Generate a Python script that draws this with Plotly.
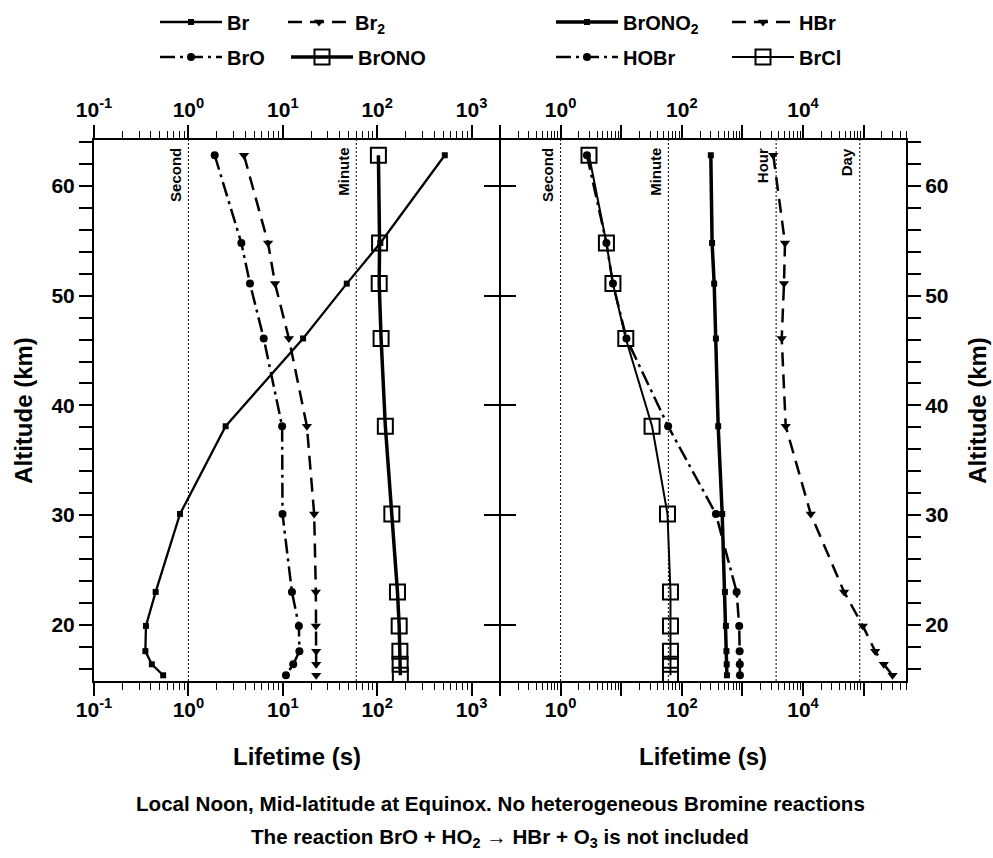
import numpy as np
import plotly.graph_objects as go

# ---------------- data ----------------
altitude = [62.8, 54.8, 51.1, 46.1, 38.1, 30.1, 23.0, 19.9, 17.6, 16.4, 15.4]

# left panel (lifetime, s)
br = [520, 108, 47.6, 16.4, 2.48, 0.815, 0.45, 0.355, 0.35, 0.41, 0.54]
br2 = [3.88, 6.98, 8.28, 11.6, 18.0, 21.5, 22.4, 22.4, 22.6, 22.6, 22.6]
bro = [1.9, 3.64, 4.49, 6.28, 9.84, 9.93, 12.5, 14.8, 15.0, 12.9, 10.8]
brono = [103, 106, 105, 110, 122, 143, 164, 171, 174, 175, 176]

# right panel (lifetime, s)
brono2 = [301, 316, 342, 365, 398, 464, 514, 534, 545, 550, 555]
hbr = [3230, 5040, 4850, 4450, 5180, 13400, 47600, 97000, 155000, 215000, 300000]
hobr = [2.72, 5.7, 7.3, 12.2, 59.4, 365, 802, 885, 900, 905, 910]
brcl = [2.94, 5.7, 7.3, 11.9, 32.3, 58, 65, 65, 65, 65, 65]

ref_left_names = ["Second", "Minute"]
ref_left_values = [1, 60]
ref_right_names = ["Second", "Minute", "Hour", "Day"]
ref_right_values = [1, 60, 3600, 86400]

left_tickvals = [0.1, 1, 10, 100, 1000]
left_ticktext = ["10<sup>-1</sup>", "10<sup>0</sup>", "10<sup>1</sup>", "10<sup>2</sup>", "10<sup>3</sup>"]
right_tickvals = [0.1, 1, 10, 100, 1000, 1e4, 1e5]
right_ticktext = ["", "10<sup>0</sup>", "", "10<sup>2</sup>", "", "10<sup>4</sup>", ""]
alt_range = [14.88, 64.19]
left_range = [0.1, 2000]
right_range = [0.1, 5e5]

FONT = "Liberation Sans"
fig = go.Figure()

# plot area in pixels (for placing legends)
ML, MR, MT, MB = 94, 87, 140, 177
PW, PH = 993 - ML - MR, 858 - MT - MB


def add(name, x, xa, ya, dash, width, symbol, msize, legend, mline=0):
    fig.add_trace(go.Scatter(
        x=x, y=altitude, name=name, mode="lines+markers", xaxis=xa, yaxis=ya,
        line=dict(color="black", width=width, dash=dash),
        marker=dict(symbol=symbol, size=msize, color="black",
                    line=dict(color="black", width=mline)),
        legend=legend))


DASH = "14px,8px"
DASHDOT = "15px,5px,3px,5px"
add("Br", br, "x", "y", "solid", 2.3, "square", 6, "legend")
add("Br<sub>2</sub>", br2, "x", "y", DASH, 2.5, "triangle-down", 9, "legend2")
add("BrO", bro, "x", "y", DASHDOT, 2.5, "circle", 8, "legend3")
add("BrONO", brono, "x", "y", "solid", 3.5, "square-open", 15, "legend4", 2)
add("BrONO<sub>2</sub>", brono2, "x2", "y2", "solid", 3.5, "square", 6, "legend5")
add("HBr", hbr, "x2", "y2", DASH, 2.5, "triangle-down", 9, "legend6")
add("HOBr", hobr, "x2", "y2", DASHDOT, 2.5, "circle", 8, "legend7")
add("BrCl", brcl, "x2", "y2", "solid", 2, "square-open", 15, "legend8", 2)

# dotted reference lines (Second / Minute / Hour / Day)
annotations = []
for names, vals, xa, ya in [(ref_left_names, ref_left_values, "x3", "y3"),
                            (ref_right_names, ref_right_values, "x4", "y4")]:
    for nm, v in zip(names, vals):
        fig.add_trace(go.Scatter(x=[v, v], y=alt_range, mode="lines", xaxis=xa, yaxis=ya,
                                 line=dict(color="black", width=1, dash="2px,2px"),
                                 showlegend=False, hoverinfo="skip"))
        annotations.append(dict(text=nm, x=np.log10(v), y=alt_range[1], xref=xa, yref=ya,
                                xanchor="right", yanchor="top", textangle=-90,
                                xshift=-3, yshift=-6, showarrow=False,
                                font=dict(size=15, family=FONT, weight="bold", color="black")))

annotations += [
    dict(text="Local Noon, Mid-latitude at Equinox. No heterogeneous Bromine reactions",
         x=0.5, y=-(803 - 681) / PH, xref="paper", yref="paper", showarrow=False,
         xanchor="center", yanchor="middle",
         font=dict(size=20.6, family=FONT, weight="bold", color="black")),
    dict(text="The reaction BrO + HO<sub>2</sub> \u2192 HBr + O<sub>3</sub> is not included",
         x=0.5, y=-(838 - 681) / PH, xref="paper", yref="paper", showarrow=False,
         xanchor="center", yanchor="middle",
         font=dict(size=20.6, family=FONT, weight="bold", color="black")),
]

tickfont = dict(size=21, family=FONT, weight="bold", color="black")
xcommon = dict(type="log", showline=True, linecolor="black", linewidth=2,
               ticks="outside", ticklen=13, tickwidth=1.5, tickcolor="black",
               minor=dict(ticks="outside", ticklen=7, tickwidth=1, tickcolor="black", dtick="D1"),
               showgrid=False, zeroline=False, tickfont=tickfont, tickmode="array",
               automargin=False)
ycommon = dict(range=alt_range, showline=True, linecolor="black", linewidth=2,
               ticks="outside", ticklen=13, tickwidth=1.5, tickcolor="black",
               tickmode="linear", tick0=0, dtick=10,
               minor=dict(ticks="outside", ticklen=13, tickwidth=1.5, tickcolor="black", dtick=2, tick0=0),
               showgrid=False, zeroline=False, tickfont=tickfont, automargin=False)
ydiv = dict(range=alt_range, showline=True, linecolor="black", linewidth=1,
            ticks="outside", ticklen=15, tickwidth=1.5, tickcolor="black",
            tickmode="array", tickvals=[20, 30, 40, 50, 60], showticklabels=False,
            showgrid=False, zeroline=False, automargin=False)
title_font = dict(size=24, family=FONT, weight="bold", color="black")

lrange = [np.log10(left_range[0]), np.log10(left_range[1])]
rrange = [np.log10(right_range[0]), np.log10(right_range[1])]

fig.update_layout(
    width=993, height=858,
    margin=dict(l=ML, r=MR, t=MT, b=MB, autoexpand=False),
    paper_bgcolor="white", plot_bgcolor="white",
    font=dict(family=FONT, weight="bold", color="black"),
    xaxis=dict(xcommon, domain=[0, 0.5], range=lrange, anchor="y", side="bottom",
               tickvals=left_tickvals, ticktext=left_ticktext, ticklabelstandoff=-4,
               title=dict(text="Lifetime (s)", font=title_font, standoff=28)),
    xaxis3=dict(xcommon, range=lrange, overlaying="x", anchor="y3", side="top",
                tickvals=left_tickvals, ticktext=left_ticktext),
    xaxis2=dict(xcommon, domain=[0.5, 1], range=rrange, anchor="y2", side="bottom",
                tickvals=right_tickvals, ticktext=right_ticktext, ticklabelstandoff=-4,
                title=dict(text="Lifetime (s)", font=title_font, standoff=28)),
    xaxis4=dict(xcommon, range=rrange, overlaying="x2", anchor="y4", side="top",
                tickvals=right_tickvals, ticktext=right_ticktext),
    yaxis=dict(ycommon, domain=[0, 1], anchor="x", side="left",
               title=dict(text="Altitude (km)", font=title_font, standoff=12)),
    yaxis2=dict(ycommon, domain=[0, 1], anchor="x2", side="right",
                title=dict(text="Altitude (km)", font=title_font, standoff=22)),
    yaxis3=dict(ydiv, overlaying="y", anchor="x3", side="right"),
    yaxis4=dict(ydiv, overlaying="y2", anchor="x4", side="left"),
    annotations=annotations,
)

# one legend per entry, placed at the pixel positions of the reference
leg = dict(orientation="h", xanchor="left", yanchor="middle", itemwidth=62,
           bgcolor="rgba(0,0,0,0)", font=dict(size=20, family=FONT, weight="bold", color="black"),
           tracegroupgap=0, itemclick=False, borderwidth=0)
legend_px = {"legend": (155, 22), "legend2": (283, 22), "legend3": (155, 57), "legend4": (286, 57),
             "legend5": (551, 22), "legend6": (727, 22), "legend7": (551, 57), "legend8": (727, 57)}
fig.update_layout(**{k: dict(leg, x=(px - ML) / PW, y=1 + (MT - py) / PH)
                     for k, (px, py) in legend_px.items()})

fig.write_html("out.html")
